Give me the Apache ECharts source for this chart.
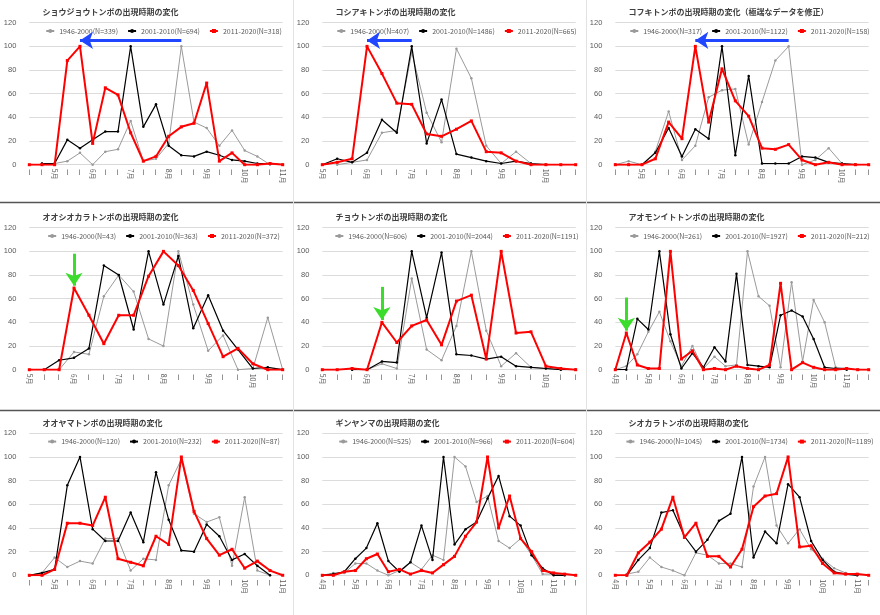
<!DOCTYPE html>
<html><head><meta charset="utf-8">
<script src="https://cdn.jsdelivr.net/npm/echarts@6/dist/echarts.min.js"></script>
<style>html,body{margin:0;padding:0;background:#fff}#c{width:880px;height:615px}</style>
</head><body><div id="c"></div>
<script>
// ---- categories (ten-day periods) ----
const periods = ["4月上旬","4月中旬","4月下旬","5月上旬","5月中旬","5月下旬","6月上旬","6月中旬","6月下旬",
  "7月上旬","7月中旬","7月下旬","8月上旬","8月中旬","8月下旬","9月上旬","9月中旬","9月下旬",
  "10月上旬","10月中旬","10月下旬","11月上旬","11月中旬","11月下旬"];
const catStart = [1,3,1,3,3,0,1,0,0];
const catCount = [21,18,20,18,18,24,21,24,23];

const titles = ["ショウジョウトンボの出現時期の変化","コシアキトンボの出現時期の変化","コフキトンボの出現時期の変化（極端なデータを修正）",
  "オオシオカラトンボの出現時期の変化","チョウトンボの出現時期の変化","アオモンイトトンボの出現時期の変化",
  "オオヤマトンボの出現時期の変化","ギンヤンマの出現時期の変化","シオカラトンボの出現時期の変化"];
const periodNames = ["1946-2000","2001-2010","2011-2020"];
const counts = [[339,694,318],[407,1486,665],[317,1122,158],[43,363,372],[606,2044,1191],[261,1927,212],[120,232,87],[525,966,604],[1045,1734,1189]];

// ---- series values (% of peak) ----
const gray1  = ['-',1,1,3,10,0,11,13,37,3,5,18,100,36,31,16,29,12,7,0,'-'];
const black1 = ['-',1,1,21,14,21,28,28,100,32,51,16,8,7,11,8,4,3,1,1,0];
const red1   = [0,0,0,88,100,18,65,59,27,3,7,24,32,35,69,3,10,0,0,1,0];

const gray2  = ['-',0,2,4,27,29,95,44,19,98,73,16,1,11,1,'-','-','-'];
const black2 = [0,5,2,10,38,27,100,18,55,9,6,3,1,3,1,0,'-','-'];
const red2   = [0,2,5,100,77,52,51,26,24,30,37,11,10,3,0,0,0,0];

const gray3  = [0,3,0,11,45,4,16,57,63,64,17,53,88,100,0,4,14,1,0,'-'];
const black3 = [0,0,0,10,31,7,30,22,100,8,75,1,1,1,7,6,2,1,0,'-'];
const red3   = [0,0,0,5,36,22,100,36,81,54,41,14,13,17,4,0,2,0,0,0];

const gray4  = ['-','-',0,15,13,62,80,66,26,20,100,55,16,29,0,1,44,0];
const black4 = ['-',0,8,10,18,88,80,34,100,55,96,35,63,33,17,1,2,0];
const red4   = [0,0,0,69,46,22,46,46,79,100,88,67,39,11,18,5,0,0];

const gray5  = ['-','-',0,0,5,1,77,17,8,37,100,33,3,14,2,1,0,0];
const black5 = ['-','-',0,0,7,6,100,44,99,13,12,9,11,3,2,1,0,0];
const red5   = [0,0,1,0,40,23,37,42,21,58,63,9,100,31,32,3,1,0];

const gray6  = [0,3,13,32,49,24,3,20,1,11,3,4,100,62,54,2,74,7,59,40,2,1,0,'-'];
const black6 = [0,0,43,34,100,30,1,14,2,19,7,81,4,3,2,46,50,45,26,2,1,0,'-','-'];
const red6   = [0,31,4,1,1,100,9,16,0,1,0,3,1,0,4,73,0,6,2,0,0,1,0,0];

const gray7  = [0,2,15,7,12,10,31,31,4,14,13,76,98,52,45,49,8,66,4,0,'-'];
const black7 = [0,2,5,76,100,39,29,29,53,28,87,47,21,20,43,33,13,18,8,0,'-'];
const red7   = [0,0,5,44,44,42,66,14,11,8,33,26,100,54,31,17,22,6,12,4,0];

const gray8  = [0,2,2,10,10,4,0,4,11,5,17,13,100,92,62,67,29,23,31,17,1,1,0,'-'];
const black8 = [0,1,3,14,23,44,12,3,11,42,13,100,26,39,45,65,84,50,42,17,6,0,0,'-'];
const red8   = [0,0,3,4,14,18,3,5,1,4,2,9,16,33,45,100,40,67,31,20,4,2,1,0];

const gray9  = ['-',1,3,15,7,4,0,19,17,10,10,7,75,100,42,27,39,22,14,6,2,0,'-'];
const black9 = ['-',0,13,23,53,55,33,20,30,46,52,100,15,37,27,77,66,29,13,3,1,0,'-'];
const red9   = [0,0,19,28,39,66,32,44,16,16,7,22,58,67,69,100,24,25,10,2,1,1,0];

const grays  = [gray1,gray2,gray3,gray4,gray5,gray6,gray7,gray8,gray9];
const blacks = [black1,black2,black3,black4,black5,black6,black7,black8,black9];
const reds   = [red1,red2,red3,red4,red5,red6,red7,red8,red9];

// annotation arrows: [panel, fromCat, fromVal, toCat, toVal, colour]
const arrows = [
  [0,12,105,4,105,'#2046ff'],
  [1,6,105,3,105,'#2046ff'],
  [2,13,105,6,105,'#2046ff'],
  [3,3,98,3,71,'#3cdc2c'],
  [4,4,70,4,42,'#3cdc2c'],
  [5,1,61,1,33,'#3cdc2c']
];

// ---- layout ----
const colX = [0,293,586];
const gridTop = [22.7,227.7,433.3];
const plotH = 142, plotLeft = 29.3, plotW = 253.4;
const FONT = "'Noto Sans CJK JP', sans-serif";
const colors = ['#9a9a9a','#000000','#ff0000'];

const mctx = document.createElement('canvas').getContext('2d');
const LFS = 7;
mctx.font = LFS + 'px ' + FONT;

const option = {animation:false, title:[], legend:[], grid:[], xAxis:[], yAxis:[], series:[], graphic:[]};

for (let p=0;p<9;p++){
  const r = Math.floor(p/3), c = p%3;
  const px = colX[c], gt = gridTop[r];
  const cats = periods.slice(catStart[p], catStart[p]+catCount[p]);
  option.grid.push({left:px+plotLeft, top:gt, width:plotW, height:plotH});
  option.title.push({text:titles[p], left:px+42.5, top:gt-14.5, padding:0,
    textStyle:{fontSize:8, fontWeight:'bold', color:'#404040', fontFamily:FONT}});
  option.xAxis.push({type:'category', gridIndex:p, data:cats, boundaryGap:false,
    axisLine:{show:true, lineStyle:{color:'#d9d9d9'}}, axisTick:{show:false},
    axisLabel:{interval:0, rotate:-90, fontSize:7, color:'#595959', margin:4, fontFamily:FONT,
      formatter: v => v.endsWith('上旬') ? v.replace('上旬','') : 'ー'}});
  option.yAxis.push({type:'value', gridIndex:p, min:0, max:120, interval:20,
    axisLine:{show:false}, axisTick:{show:false},
    splitLine:{lineStyle:{color:'#dcdcdc'}},
    axisLabel:{fontSize:7.5, color:'#595959', margin:13, fontFamily:'Liberation Sans, Arial, sans-serif'}});
  const data = [grays[p], blacks[p], reds[p]];
  const names = periodNames.map((n,i)=> n + '(N=' + counts[p][i] + ')');
  let total = 0;
  names.forEach(n => { total += 8 + 5 + mctx.measureText(n).width; });
  total += 2*9;
  option.legend.push({data:names, left:px+162-total/2, top:gt+9.3-4.5, width:330, padding:0, itemGap:9,
    itemWidth:8, itemHeight:5, textStyle:{fontSize:LFS, color:'#595959', fontFamily:FONT}, selectedMode:false});
  for (let i=0;i<3;i++){
    const s = {type:'line', name:names[i], xAxisIndex:p, yAxisIndex:p, data:data[i],
      symbol: i===2 ? 'rect' : 'circle', symbolSize: i===2 ? 3 : 2.5, showSymbol:true,
      lineStyle:{color:colors[i], width: i===2 ? 2 : (i===1 ? 1.2 : 1)},
      itemStyle:{color:colors[i]}, emphasis:{disabled:true}, z: i===0 ? 2 : (i===1 ? 3 : 4)};
    if (i===2){
      const arr = arrows.filter(a=>a[0]===p);
      if (arr.length){
        s.markLine = {silent:true, animation:false, symbol:['none','arrow'], symbolSize:13,
          label:{show:false},
          data: arr.map(a=>[{coord:[a[1],a[2]], lineStyle:{color:a[5], width:3, type:'solid'}, itemStyle:{color:a[5]}},
                            {coord:[a[3],a[4]]}])};
      }
    }
    option.series.push(s);
  }
}
// panel separators
option.graphic.push({type:'line', shape:{x1:0,y1:202.5,x2:880,y2:202.5}, style:{stroke:'#555',lineWidth:1.5}});
option.graphic.push({type:'line', shape:{x1:0,y1:410.5,x2:880,y2:410.5}, style:{stroke:'#555',lineWidth:1.5}});
option.graphic.push({type:'line', shape:{x1:293.5,y1:0,x2:293.5,y2:615}, style:{stroke:'#e2e2e2',lineWidth:1}});
option.graphic.push({type:'line', shape:{x1:586.5,y1:0,x2:586.5,y2:615}, style:{stroke:'#e2e2e2',lineWidth:1}});

const chart = echarts.init(document.getElementById('c'), null, {renderer:'canvas'});
chart.setOption(option);
</script></body></html>
